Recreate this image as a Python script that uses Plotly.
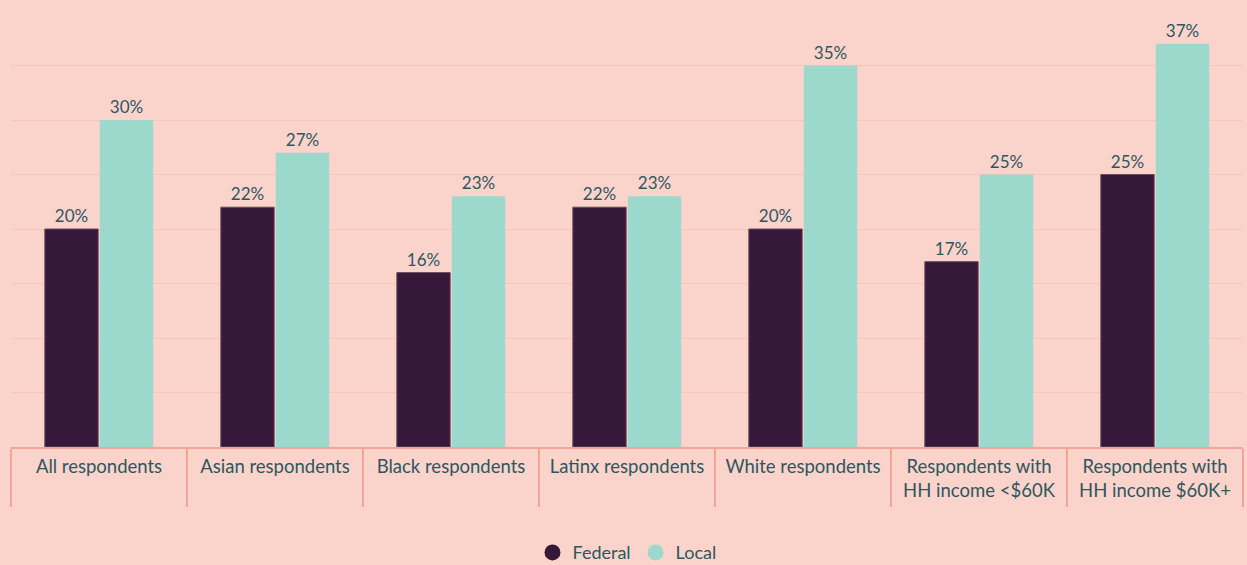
import plotly.graph_objects as go

categories = ["All respondents", "Asian respondents", "Black respondents", "Latinx respondents",
              "White respondents", "Respondents with<br>HH income <$60K", "Respondents with<br>HH income $60K+"]
federal = [20, 22, 16, 22, 20, 17, 25]
local = [30, 27, 23, 23, 35, 25, 37]

BG = "#FAD4CA"
GRID = "#F7C5BA"
AXIS = "#F2A497"
FED = "#36183A"
LOC = "#9DD8CD"
TXT = "#2E5661"
FONT = "Lato, Open Sans, sans-serif"

fig = go.Figure()
fig.add_trace(go.Bar(x=categories, y=federal, name="Federal", marker=dict(color=FED, line=dict(width=1, color="#6a4a5a")),
                     text=[f"{v}%" for v in federal], textposition="outside",
                     textfont=dict(color=TXT, size=17, family=FONT), cliponaxis=False, showlegend=False))
fig.add_trace(go.Bar(x=categories, y=local, name="Local", marker=dict(color=LOC, line=dict(width=0)),
                     text=[f"{v}%" for v in local], textposition="outside",
                     textfont=dict(color=TXT, size=17, family=FONT), cliponaxis=False, showlegend=False))
# legend entries with circle markers
fig.add_trace(go.Scatter(x=[None], y=[None], mode="markers", name="Federal",
                         marker=dict(symbol="circle", size=22, color=FED)))
fig.add_trace(go.Scatter(x=[None], y=[None], mode="markers", name="Local",
                         marker=dict(symbol="circle", size=22, color=LOC)))

fig.update_layout(
    width=1247, height=565,
    paper_bgcolor=BG, plot_bgcolor=BG,
    margin=dict(l=11, r=4, t=11, b=118, autoexpand=False),
    barmode="group", bargap=0.375, bargroupgap=0.03,
    font=dict(family=FONT, color=TXT, size=18),
    legend=dict(orientation="h", x=0.5, xanchor="center", y=-0.2, yanchor="top",
                font=dict(size=18, color=TXT), itemsizing="trace", bgcolor="rgba(0,0,0,0)"),
)
fig.update_xaxes(
    type="category", showline=True, linecolor=AXIS, linewidth=2,
    ticks="outside", tickson="boundaries", ticklen=58, tickwidth=2, tickcolor=AXIS,
    ticklabelstandoff=2, tickfont=dict(size=18.5, color=TXT, family=FONT),
    showgrid=False, fixedrange=True, automargin=False,
)
fig.update_yaxes(
    range=[0, 40], dtick=5, showticklabels=False, showgrid=True, gridcolor=GRID, gridwidth=1,
    zeroline=False, showline=False, ticks="", automargin=False,
)

fig.write_html("out.html")
